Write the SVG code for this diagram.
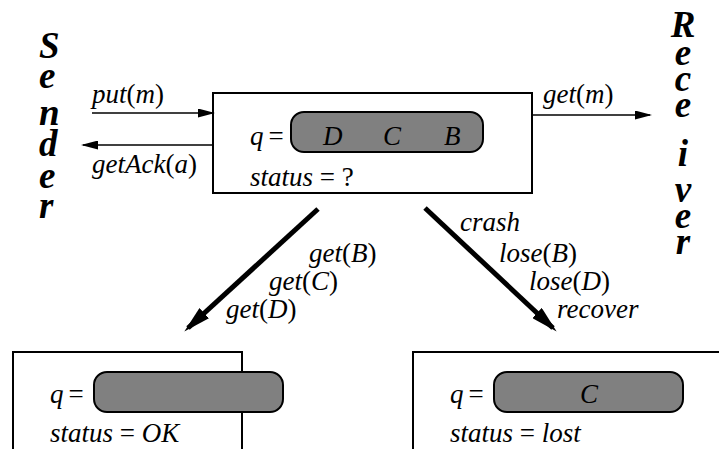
<svg xmlns="http://www.w3.org/2000/svg" width="719" height="449" viewBox="0 0 719 449">
<style>
text{font-family:'Liberation Serif','DejaVu Serif',serif;font-style:italic;font-size:27px;fill:#000}
.u{font-style:normal}
.big{font-weight:bold;font-size:37px}
.box{fill:#fff;stroke:#000;stroke-width:2}
.pill{fill:#808080;stroke:#000;stroke-width:2}
.thin{stroke:#000;stroke-width:1.6;fill:none}
.thick{stroke:#000;stroke-width:5;fill:none}
</style>
<defs>
<marker id="ah" markerUnits="userSpaceOnUse" markerWidth="17" markerHeight="9" refX="15" refY="4.5" orient="auto">
<path d="M0,0 L17,4.5 L0,9 z" fill="#000"/>
</marker>
<marker id="ahb" markerUnits="userSpaceOnUse" markerWidth="27" markerHeight="14" refX="22" refY="7" orient="auto">
<path d="M0,0 L27,7 L0,14 z" fill="#000"/>
</marker>
</defs>
<rect width="719" height="449" fill="#fff"/>

<g id="sender">
<text class="big" x="39" y="58">S</text>
<text class="big" x="39" y="88">e</text>
<text class="big" x="39" y="125">n</text>
<text class="big" x="39" y="156">d</text>
<text class="big" x="39" y="188">e</text>
<text class="big" x="39" y="218">r</text>
</g>

<g id="receiver" text-anchor="middle">
<text class="big" x="683" y="37">R</text>
<text class="big" x="683" y="65">e</text>
<text class="big" x="683" y="91">c</text>
<text class="big" x="683" y="117">e</text>
<text class="big" x="683" y="166">i</text>
<text class="big" x="683" y="202">v</text>
<text class="big" x="683" y="228">e</text>
<text class="big" x="683" y="254">r</text>
</g>

<g id="channel">
<rect class="box" x="213" y="93" width="319" height="100"/>
<text x="250" y="145">q<tspan class="u" dx="5">=</tspan></text>
<rect class="pill" x="291" y="112" width="192" height="40" rx="13"/>
<text x="323" y="145">D</text>
<text x="383" y="145">C</text>
<text x="444" y="145">B</text>
<text x="250" y="186">status <tspan class="u">= ?</tspan></text>
</g>

<g id="state-ok">
<rect class="box" x="13" y="352" width="229" height="110"/>
<text x="50" y="403">q<tspan class="u" dx="5">=</tspan></text>
<rect class="pill" x="94" y="372" width="189" height="40" rx="13"/>
<text x="50" y="442">status <tspan class="u">=</tspan> OK</text>
</g>

<g id="state-lost">
<rect class="box" x="413" y="352" width="320" height="110"/>
<text x="450" y="403">q<tspan class="u" dx="5">=</tspan></text>
<rect class="pill" x="494" y="372" width="189" height="40" rx="13"/>
<text x="589" y="403" text-anchor="middle">C</text>
<text x="450" y="442">status <tspan class="u">=</tspan> lost</text>
</g>

<g id="connectors">
<line class="thin" x1="92" y1="113" x2="213" y2="113" marker-end="url(#ah)"/>
<line class="thin" x1="213" y1="145" x2="83" y2="145" marker-end="url(#ah)"/>
<line class="thin" x1="532" y1="115" x2="650" y2="115" marker-end="url(#ah)"/>
<line class="thick" x1="318" y1="209" x2="188" y2="328" marker-end="url(#ahb)"/>
<line class="thick" x1="425" y1="208" x2="553" y2="328" marker-end="url(#ahb)"/>
<text x="92" y="103">put<tspan class="u">(</tspan>m<tspan class="u">)</tspan></text>
<text x="92" y="173">getAck<tspan class="u">(</tspan>a<tspan class="u">)</tspan></text>
<text x="543" y="103">get<tspan class="u">(</tspan>m<tspan class="u">)</tspan></text>
<text x="309" y="262">get<tspan class="u">(</tspan>B<tspan class="u">)</tspan></text>
<text x="269" y="290">get<tspan class="u">(</tspan>C<tspan class="u">)</tspan></text>
<text x="226" y="318">get<tspan class="u">(</tspan>D<tspan class="u">)</tspan></text>
<text x="460" y="231">crash</text>
<text x="499" y="262">lose<tspan class="u">(</tspan>B<tspan class="u">)</tspan></text>
<text x="529" y="290">lose<tspan class="u">(</tspan>D<tspan class="u">)</tspan></text>
<text x="557" y="318">recover</text>
</g>
</svg>
